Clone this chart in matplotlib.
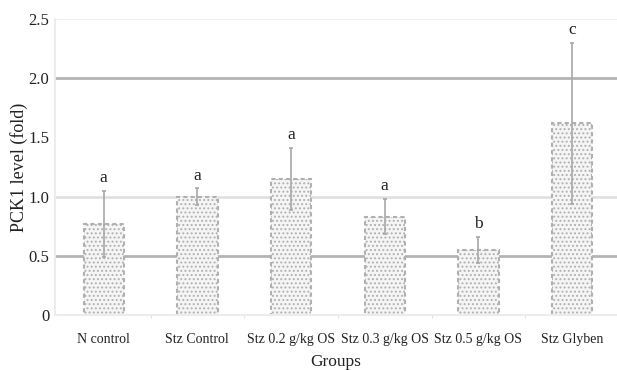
import matplotlib
matplotlib.use("Agg")
import matplotlib.pyplot as plt
import numpy as np

categories = ["N control", "Stz Control", "Stz 0.2 g/kg OS", "Stz 0.3 g/kg OS", "Stz 0.5 g/kg OS", "Stz Glyben"]
values = [0.77, 1.00, 1.15, 0.83, 0.55, 1.62]
errors = [0.28, 0.07, 0.26, 0.15, 0.11, 0.68]
letters = ["a", "a", "a", "a", "b", "c"]
yticks = [0, 0.5, 1.0, 1.5, 2.0, 2.5]
yticklabels = ["0", "0.5", "1.0", "1.5", "2.0", "2.5"]

plt.rcParams['font.family'] = ['Liberation Serif', 'DejaVu Serif']
plt.rcParams['hatch.color'] = '#c4c4c4'
plt.rcParams['hatch.linewidth'] = 0.9

fig = plt.figure(figsize=(6.17, 3.70), dpi=100)
ax = fig.add_axes([55/617, 55/370, 1 - 55/617, (315-19)/370])

x = np.arange(len(categories))
ax.set_xlim(-0.52, 5.48)
ax.set_ylim(0, 2.5)

# grid lines
ax.axhline(0.5, color='#b4b4b4', lw=2.0, zorder=0)
ax.axhline(2.0, color='#b4b4b4', lw=2.0, zorder=0)
ax.axhline(1.0, color='#dedede', lw=1.8, zorder=0)
ax.axhline(2.5, color='#f0f0f0', lw=1.5, zorder=0)

bars = ax.bar(x, values, width=0.43, color='#f5f5f5', edgecolor='#b0b0b0',
              hatch='....', linewidth=1.5, linestyle=(0, (2, 1.5)), zorder=2)

ax.errorbar(x, values, yerr=errors, fmt='none', ecolor='#a8a8a8', elinewidth=1.2,
            capsize=1.5, capthick=1.2, zorder=3)

for xi, v, e, l in zip(x, values, errors, letters):
    ax.text(xi, v + e + 0.04, l, ha='center', va='bottom', fontsize=12.5, color='#222222')

for s in ['top', 'right']:
    ax.spines[s].set_visible(False)
ax.spines['left'].set_color('#ececec')
ax.spines['left'].set_linewidth(1.5)
ax.spines['bottom'].set_color('#ececec')
ax.spines['bottom'].set_linewidth(1.5)

ax.set_yticks(yticks)
ax.set_yticklabels(yticklabels, fontsize=12, color='#222222')
ax.tick_params(axis='y', length=0, pad=4)

ax.set_xticks(x)
ax.set_xticklabels(categories, fontsize=10, color='#222222')
ax.tick_params(axis='x', length=0, pad=13)
ax.set_xticks(x[:-1] + 0.5, minor=True)
ax.tick_params(axis='x', which='minor', length=2, color='#dddddd', direction='out')

ax.set_xlabel("Groups", fontsize=12.5, labelpad=6, color='#222222')
ax.set_ylabel("PCK1 level (fold)", fontsize=13, labelpad=0, color='#222222')

fig.savefig("out.png", dpi=100)
